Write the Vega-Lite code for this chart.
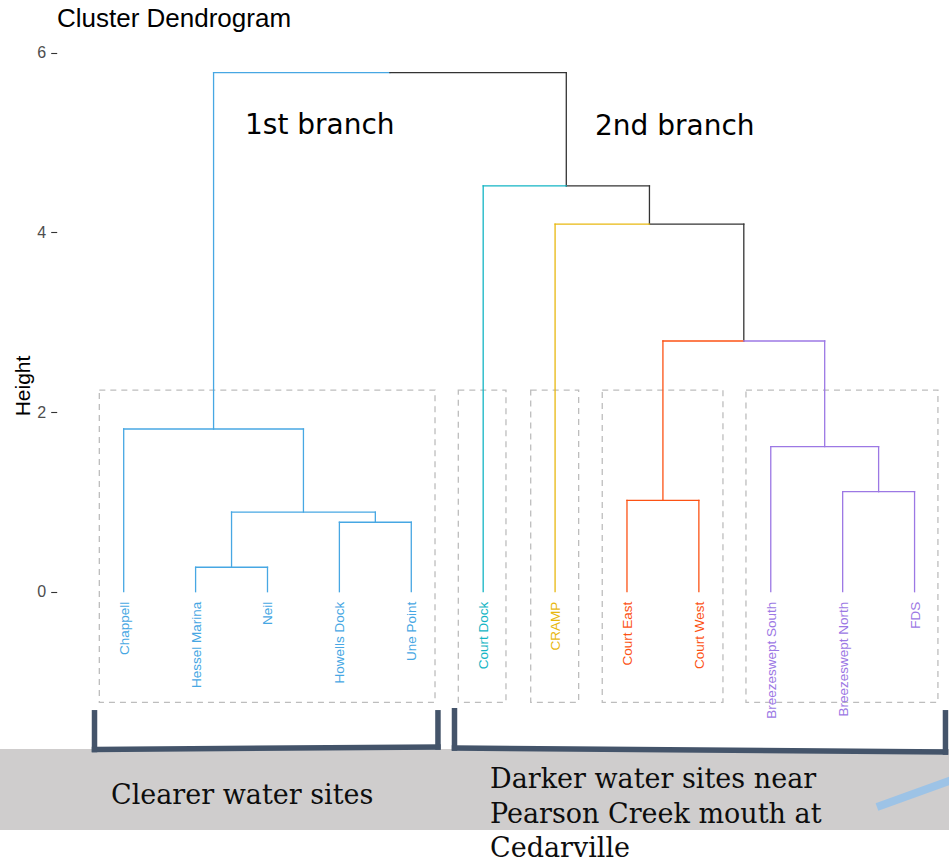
{
  "$schema": "https://vega.github.io/schema/vega-lite/v6.json",
  "width": 949,
  "height": 862,
  "autosize": {"type": "none"},
  "padding": 0,
  "background": "#ffffff",
  "config": {"view": {"stroke": null}},
  "datasets": {
    "segments": [
      {"x": 1, "x2": 1, "y": 0, "y2": 1.811, "cluster": "c1"},
      {"x": 1, "x2": 3.5, "y": 1.811, "y2": 1.811, "cluster": "c1"},
      {"x": 3.5, "x2": 3.5, "y": 1.811, "y2": 0.887, "cluster": "c1"},
      {"x": 2.5, "x2": 4.5, "y": 0.887, "y2": 0.887, "cluster": "c1"},
      {"x": 2.5, "x2": 2.5, "y": 0.887, "y2": 0.272, "cluster": "c1"},
      {"x": 2, "x2": 3, "y": 0.272, "y2": 0.272, "cluster": "c1"},
      {"x": 2, "x2": 2, "y": 0, "y2": 0.272, "cluster": "c1"},
      {"x": 3, "x2": 3, "y": 0, "y2": 0.272, "cluster": "c1"},
      {"x": 4.5, "x2": 4.5, "y": 0.887, "y2": 0.773, "cluster": "c1"},
      {"x": 4, "x2": 5, "y": 0.773, "y2": 0.773, "cluster": "c1"},
      {"x": 4, "x2": 4, "y": 0, "y2": 0.773, "cluster": "c1"},
      {"x": 5, "x2": 5, "y": 0, "y2": 0.773, "cluster": "c1"},
      {"x": 2.25, "x2": 2.25, "y": 1.811, "y2": 5.778, "cluster": "c1"},
      {"x": 2.25, "x2": 4.703, "y": 5.778, "y2": 5.778, "cluster": "c1"},
      {"x": 4.703, "x2": 7.156, "y": 5.778, "y2": 5.778, "cluster": "top"},
      {"x": 7.156, "x2": 7.156, "y": 5.778, "y2": 4.517, "cluster": "top"},
      {"x": 7.156, "x2": 8.3125, "y": 4.517, "y2": 4.517, "cluster": "top"},
      {"x": 8.3125, "x2": 8.3125, "y": 4.517, "y2": 4.093, "cluster": "top"},
      {"x": 8.3125, "x2": 9.625, "y": 4.093, "y2": 4.093, "cluster": "top"},
      {"x": 9.625, "x2": 9.625, "y": 4.093, "y2": 2.791, "cluster": "top"},
      {"x": 6, "x2": 7.156, "y": 4.517, "y2": 4.517, "cluster": "c2"},
      {"x": 6, "x2": 6, "y": 0, "y2": 4.517, "cluster": "c2"},
      {"x": 7, "x2": 8.3125, "y": 4.093, "y2": 4.093, "cluster": "c3"},
      {"x": 7, "x2": 7, "y": 0, "y2": 4.093, "cluster": "c3"},
      {"x": 8.5, "x2": 9.625, "y": 2.791, "y2": 2.791, "cluster": "c4"},
      {"x": 8.5, "x2": 8.5, "y": 2.791, "y2": 1.017, "cluster": "c4"},
      {"x": 8, "x2": 9, "y": 1.017, "y2": 1.017, "cluster": "c4"},
      {"x": 8, "x2": 8, "y": 0, "y2": 1.017, "cluster": "c4"},
      {"x": 9, "x2": 9, "y": 0, "y2": 1.017, "cluster": "c4"},
      {"x": 9.625, "x2": 10.75, "y": 2.791, "y2": 2.791, "cluster": "c5"},
      {"x": 10.75, "x2": 10.75, "y": 2.791, "y2": 1.614, "cluster": "c5"},
      {"x": 10, "x2": 11.5, "y": 1.614, "y2": 1.614, "cluster": "c5"},
      {"x": 10, "x2": 10, "y": 0, "y2": 1.614, "cluster": "c5"},
      {"x": 11.5, "x2": 11.5, "y": 1.614, "y2": 1.113, "cluster": "c5"},
      {"x": 11, "x2": 12, "y": 1.113, "y2": 1.113, "cluster": "c5"},
      {"x": 11, "x2": 11, "y": 0, "y2": 1.113, "cluster": "c5"},
      {"x": 12, "x2": 12, "y": 0, "y2": 1.113, "cluster": "c5"}
    ],
    "leaves": [
      {"x": 1, "site": "Chappell", "cluster": "c1"},
      {"x": 2, "site": "Hessel Marina", "cluster": "c1"},
      {"x": 3, "site": "Neil", "cluster": "c1"},
      {"x": 4, "site": "Howells Dock", "cluster": "c1"},
      {"x": 5, "site": "Une Point", "cluster": "c1"},
      {"x": 6, "site": "Court Dock", "cluster": "c2"},
      {"x": 7, "site": "CRAMP", "cluster": "c3"},
      {"x": 8, "site": "Court East", "cluster": "c4"},
      {"x": 9, "site": "Court West", "cluster": "c4"},
      {"x": 10, "site": "Breezeswept South", "cluster": "c5"},
      {"x": 11, "site": "Breezeswept North", "cluster": "c5"},
      {"x": 12, "site": "FDS", "cluster": "c5"}
    ],
    "boxes": [
      {"x": 0.661, "x2": 5.33, "y": 2.245, "y2": -1.231},
      {"x": 5.654, "x2": 6.317, "y": 2.245, "y2": -1.231},
      {"x": 6.661, "x2": 7.328, "y": 2.245, "y2": -1.231},
      {"x": 7.656, "x2": 9.335, "y": 2.245, "y2": -1.231},
      {"x": 9.655, "x2": 12.325, "y": 2.245, "y2": -1.231}
    ],
    "brackets": [
      {"x": 0.594, "x2": 0.594, "y": -1.348, "y2": -1.757},
      {"x": 0.594, "x2": 5.371, "y": -1.757, "y2": -1.729},
      {"x": 5.371, "x2": 5.371, "y": -1.348, "y2": -1.729},
      {"x": 5.601, "x2": 5.601, "y": -1.325, "y2": -1.74},
      {"x": 5.601, "x2": 12.43, "y": -1.74, "y2": -1.785},
      {"x": 12.43, "x2": 12.43, "y": -1.348, "y2": -1.785}
    ]
  },
  "layer": [
    {
      "data": {"values": [{}]},
      "mark": {"type": "rect", "fill": "#CFCDCD"},
      "encoding": {
        "x": {"datum": -0.7205, "type": "quantitative", "scale": {"domain": [-0.7205, 12.479], "nice": false, "zero": false}, "axis": null},
        "x2": {"datum": 12.479},
        "y": {"datum": -1.751, "type": "quantitative", "scale": {"domain": [-3.009, 6.587], "nice": false, "zero": false}, "title": "Height"},
        "y2": {"datum": -2.653}
      }
    },
    {
      "data": {"name": "boxes"},
      "mark": {"type": "rect", "fill": null, "stroke": "#BDBDBD", "strokeWidth": 1.3, "strokeDash": [6, 5]},
      "encoding": {
        "x": {"field": "x", "type": "quantitative", "scale": {"domain": [-0.7205, 12.479], "nice": false, "zero": false}, "axis": null},
        "x2": {"field": "x2"},
        "y": {"field": "y", "type": "quantitative", "scale": {"domain": [-3.009, 6.587], "nice": false, "zero": false}, "title": "Height"},
        "y2": {"field": "y2"}
      }
    },
    {
      "data": {"name": "segments"},
      "mark": {"type": "rule", "strokeWidth": 1.3, "strokeCap": "square"},
      "encoding": {
        "x": {"field": "x", "type": "quantitative", "scale": {"domain": [-0.7205, 12.479], "nice": false, "zero": false}, "axis": null},
        "x2": {"field": "x2"},
        "y": {
          "field": "y", "type": "quantitative",
          "scale": {"domain": [-3.009, 6.587], "nice": false, "zero": false},
          "title": "Height",
          "axis": {
            "values": [0, 2, 4, 6], "format": "d", "offset": -56.7, "domain": false, "grid": false,
            "tickSize": 6, "tickColor": "#333333", "tickWidth": 1.1,
            "labelFont": "Liberation Sans", "labelFontSize": 16, "labelColor": "#4D4D4D", "labelPadding": 5,
            "titleFont": "Liberation Sans", "titleFontSize": 21, "titleFontWeight": "normal", "titleColor": "#000000",
            "titleX": -23.4, "titleY": 385.5
          }
        },
        "y2": {"field": "y2"},
        "color": {
          "field": "cluster", "type": "nominal", "legend": null,
          "scale": {"domain": ["c1", "c2", "c3", "c4", "c5", "top"], "range": ["#47A7E3", "#13B5C4", "#E8B810", "#FC5214", "#9C78E4", "#333333"]}
        }
      }
    },
    {
      "data": {"name": "leaves"},
      "mark": {"type": "text", "angle": 270, "align": "right", "baseline": "middle", "font": "Liberation Sans", "fontSize": 13.5, "dy": 1},
      "encoding": {
        "x": {"field": "x", "type": "quantitative", "scale": {"domain": [-0.7205, 12.479], "nice": false, "zero": false}, "axis": null},
        "y": {"datum": -0.111, "type": "quantitative", "scale": {"domain": [-3.009, 6.587], "nice": false, "zero": false}, "title": "Height"},
        "text": {"field": "site"},
        "color": {
          "field": "cluster", "type": "nominal", "legend": null,
          "scale": {"domain": ["c1", "c2", "c3", "c4", "c5", "top"], "range": ["#47A7E3", "#13B5C4", "#E8B810", "#FC5214", "#9C78E4", "#333333"]}
        }
      }
    },
    {
      "data": {"values": [{}]},
      "mark": {"type": "text", "text": "Cluster Dendrogram", "align": "left", "baseline": "alphabetic", "font": "Liberation Sans", "fontSize": 26, "color": "#000000"},
      "encoding": {
        "x": {"datum": 0.072, "type": "quantitative", "scale": {"domain": [-0.7205, 12.479], "nice": false, "zero": false}, "axis": null},
        "y": {"datum": 6.29, "type": "quantitative", "scale": {"domain": [-3.009, 6.587], "nice": false, "zero": false}, "title": "Height"}
      }
    },
    {
      "data": {"values": [{}]},
      "mark": {"type": "text", "text": "1st branch", "align": "left", "baseline": "alphabetic", "font": "DejaVu Sans", "fontSize": 28, "color": "#000000"},
      "encoding": {
        "x": {"datum": 2.687, "type": "quantitative", "scale": {"domain": [-0.7205, 12.479], "nice": false, "zero": false}, "axis": null},
        "y": {"datum": 5.095, "type": "quantitative", "scale": {"domain": [-3.009, 6.587], "nice": false, "zero": false}, "title": "Height"}
      }
    },
    {
      "data": {"values": [{}]},
      "mark": {"type": "text", "text": "2nd branch", "align": "left", "baseline": "alphabetic", "font": "DejaVu Sans", "fontSize": 28, "color": "#000000"},
      "encoding": {
        "x": {"datum": 7.555, "type": "quantitative", "scale": {"domain": [-0.7205, 12.479], "nice": false, "zero": false}, "axis": null},
        "y": {"datum": 5.084, "type": "quantitative", "scale": {"domain": [-3.009, 6.587], "nice": false, "zero": false}, "title": "Height"}
      }
    },
    {
      "data": {"name": "brackets"},
      "mark": {"type": "rule", "strokeWidth": 5.5, "strokeCap": "square", "color": "#44546A"},
      "encoding": {
        "x": {"field": "x", "type": "quantitative", "scale": {"domain": [-0.7205, 12.479], "nice": false, "zero": false}, "axis": null},
        "x2": {"field": "x2"},
        "y": {"field": "y", "type": "quantitative", "scale": {"domain": [-3.009, 6.587], "nice": false, "zero": false}, "title": "Height"},
        "y2": {"field": "y2"}
      }
    },
    {
      "data": {"values": [{}]},
      "mark": {"type": "text", "text": "Clearer water sites", "align": "left", "baseline": "alphabetic", "font": "DejaVu Serif", "fontSize": 27, "color": "#0D0D0D"},
      "encoding": {
        "x": {"datum": 0.823, "type": "quantitative", "scale": {"domain": [-0.7205, 12.479], "nice": false, "zero": false}, "axis": null},
        "y": {"datum": -2.358, "type": "quantitative", "scale": {"domain": [-3.009, 6.587], "nice": false, "zero": false}, "title": "Height"}
      }
    },
    {
      "data": {"values": [{}]},
      "mark": {"type": "text", "text": ["Darker water sites near", "Pearson Creek mouth at", "Cedarville"], "lineHeight": 34.5, "align": "left", "baseline": "alphabetic", "font": "DejaVu Serif", "fontSize": 27, "color": "#0D0D0D"},
      "encoding": {
        "x": {"datum": 6.095, "type": "quantitative", "scale": {"domain": [-0.7205, 12.479], "nice": false, "zero": false}, "axis": null},
        "y": {"datum": -2.19, "type": "quantitative", "scale": {"domain": [-3.009, 6.587], "nice": false, "zero": false}, "title": "Height"}
      }
    },
    {
      "data": {"values": [{}]},
      "mark": {"type": "rule", "strokeWidth": 8, "strokeCap": "butt", "color": "#9DC3E6"},
      "encoding": {
        "x": {"datum": 11.477, "type": "quantitative", "scale": {"domain": [-0.7205, 12.479], "nice": false, "zero": false}, "axis": null},
        "x2": {"datum": 12.8},
        "y": {"datum": -2.397, "type": "quantitative", "scale": {"domain": [-3.009, 6.587], "nice": false, "zero": false}, "title": "Height"},
        "y2": {"datum": -2.014}
      }
    }
  ]
}
